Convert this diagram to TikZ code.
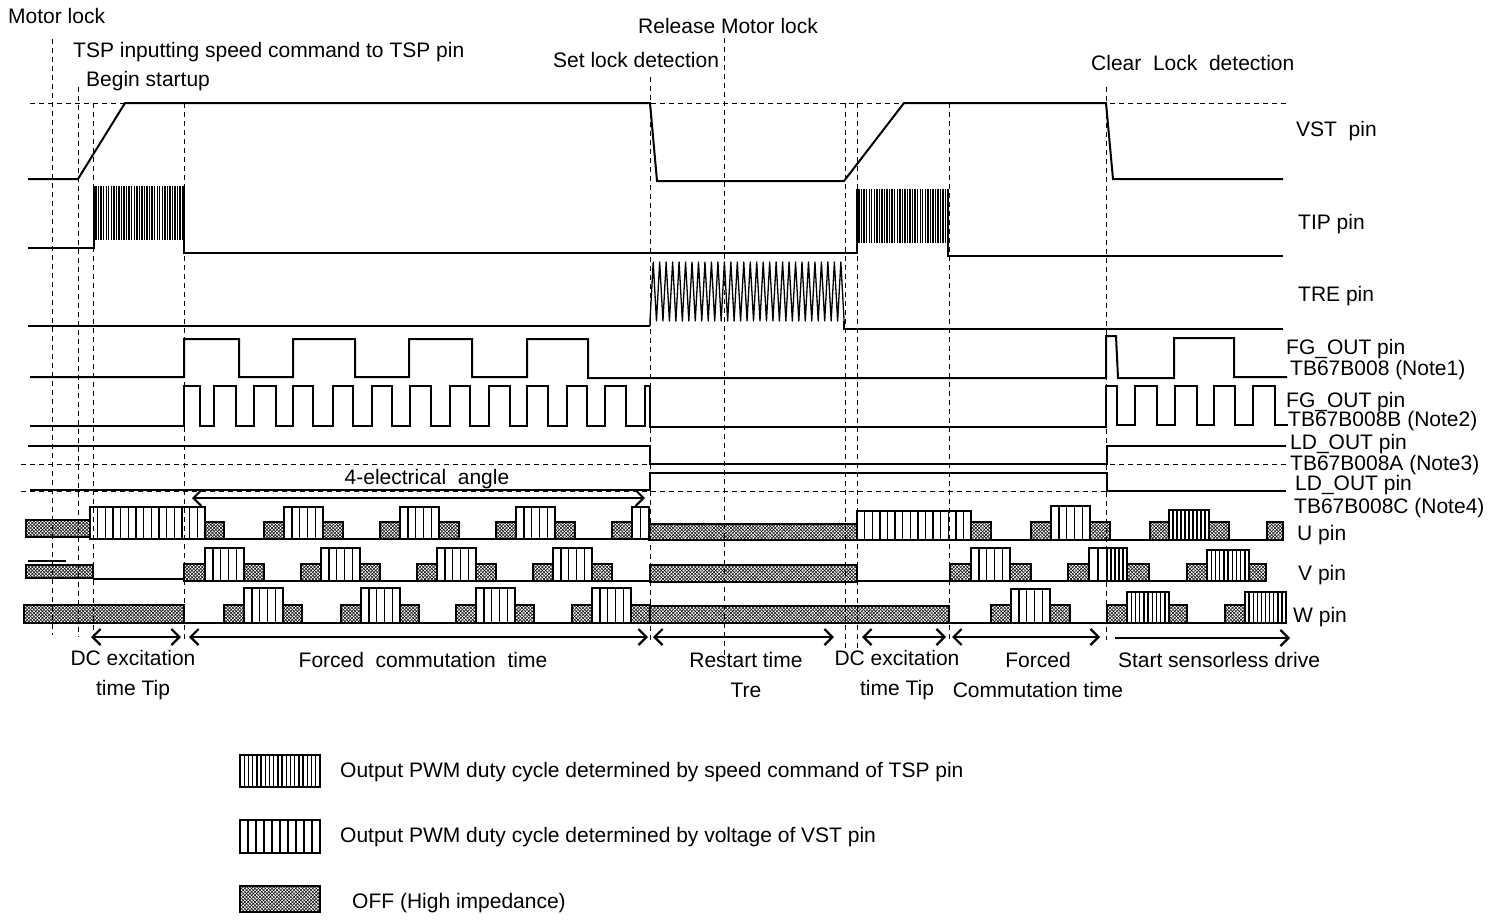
\documentclass[tikz,border=0pt]{standalone}
\usepackage{fontspec}
\setmainfont{Liberation Sans}
\usetikzlibrary{arrows.meta,patterns}
\pgfdeclarepatternformonly{offhatch}{\pgfqpoint{-0.5pt}{-0.5pt}}{\pgfqpoint{3.9pt}{3.9pt}}{\pgfqpoint{3.4pt}{3.4pt}}{%
 \pgfsetlinewidth{0.5pt}%
 \pgfpathmoveto{\pgfqpoint{0pt}{0pt}}\pgfpathlineto{\pgfqpoint{3.4pt}{3.4pt}}%
 \pgfpathmoveto{\pgfqpoint{0pt}{3.4pt}}\pgfpathlineto{\pgfqpoint{3.4pt}{0pt}}%
 \pgfusepath{stroke}}
\tikzset{
 sig/.style={line width=2pt, line join=miter},
 burst/.style={line width=1.4pt},
 treburst/.style={line width=1.3pt, line join=round},
 guide/.style={dash pattern=on 5pt off 4pt, line width=1pt},
 blk/.style={line width=1.8pt},
 stripe/.style={line width=1.4pt},
 base/.style={line width=1.4pt},
 lbl/.style={inner sep=0pt, anchor=west},
 clbl/.style={inner sep=0pt, align=center, font=\fontsize{21}{30}\selectfont},
 spanarrow/.style={line width=2.2pt, {Straight Barb[length=8pt,width=16pt]}-{Straight Barb[length=8pt,width=16pt]}},
 onearrow/.style={line width=2.2pt, -{Straight Barb[length=8pt,width=16pt]}},
}
\newcommand\hblk[4]{\draw[blk,pattern=offhatch] (#1,#3) rectangle (#2,#4);}
\newcommand\pwmblk[5]{%
 \pgfmathsetmacro\pwmleft{#1}%
 \pgfmathsetmacro\pwmright{#2}%
 \pgfmathtruncatemacro\pwmcount{max(1,round((\pwmright-\pwmleft)/#5)-1)}%
 \pgfmathsetmacro\pwmstep{(\pwmright-\pwmleft)/(\pwmcount+1)}%
 \foreach \k in {1,...,\pwmcount}{\draw[stripe] ({\pwmleft+\k*\pwmstep},#3) -- ({\pwmleft+\k*\pwmstep},#4);}%
 \draw[blk] (\pwmleft,#3) rectangle (\pwmright,#4);}
\newcommand\pwmS[4]{\pwmblk{#1}{#2}{#3}{#4}{7.7}}
\newcommand\pwmD[4]{\pwmblk{#1}{#2}{#3}{#4}{4.2}}
\begin{document}
\begin{tikzpicture}[x=1pt,y=-1pt,font=\fontsize{21}{25}\selectfont]
\useasboundingbox (0,0) rectangle (1494,919);

% ---------- dashed guides ----------
\draw[guide] (52,39) -- (52,635);
\draw[guide] (78,87) -- (78,637);
\draw[guide] (93,103) -- (93,640);
\draw[guide] (184,103) -- (184,640);
\draw[guide] (650,77) -- (650,640);
\draw[guide] (724,38) -- (724,660);
\draw[guide] (845,103) -- (845,650);
\draw[guide] (857,103) -- (857,650);
\draw[guide] (949,103) -- (949,640);
\draw[guide] (1106,87) -- (1106,640);
\draw[guide] (30,103) -- (1286,103);
\draw[guide] (21,464) -- (1288,464);
\draw[guide] (21,491) -- (1288,491);

% ---------- top labels ----------
\node[lbl] (tmotor) at (8,16) {Motor lock};
\node[lbl] (ttsp) at (73,52) {TSP inputting speed command to TSP pin};
\node[lbl] (tbegin) at (86,81) {Begin startup};
\node[lbl] (trelease) at (638,26) {Release Motor lock};
\node[lbl] (tset) at (553,60) {Set lock detection};
\node[lbl] (tclear) at (1091,63) {Clear\ \ Lock\ \ detection};

% ---------- VST ----------
\draw[sig] (28,179) -- (78,179) -- (125,103) -- (650,103) -- (657,181) -- (844,181) -- (904,103) -- (1106,103) -- (1113,179) -- (1283,179);

% ---------- TIP ----------
\draw[sig] (28,248) -- (94,248) -- (94,186);
\foreach \i in {0,...,34}{\draw[burst] ({96+2.55*\i},186) -- ({96+2.55*\i},240);}
\draw[sig] (184,186) -- (184,253) -- (857,253) -- (857,189);
\foreach \i in {0,...,34}{\draw[burst] ({859+2.55*\i},189) -- ({859+2.55*\i},243);}
\draw[sig] (948,189) -- (948,256) -- (1283,256);

% ---------- TRE ----------
\draw[sig] (28,326) -- (650,326);
\draw[treburst] (650,326) -- (650,321) \foreach \i in {0,...,29}{ -- ({650+6.47*\i+3.2},262) -- ({650+6.47*(\i+1)},321) };
\draw[sig] (844,321) -- (844,329) -- (1283,329);

% ---------- FG_OUT Note1 ----------
\draw[sig] (30,377) -- (184,377) -- (184,339) -- (239,339) -- (239,377) -- (293,377) -- (293,339) -- (355,339) -- (355,377) -- (409,377) -- (409,339) -- (472,339) -- (472,377) -- (527,377) -- (527,339) -- (588,339) -- (588,378) -- (1106,378) -- (1106,336) -- (1116,336) -- (1118,378) -- (1174,378) -- (1174,338) -- (1234,338) -- (1234,377) -- (1287,377);

% ---------- FG_OUT Note2 ----------
\draw[sig] (30,426) -- (184,426)
 -- (184,386) -- (200,386) -- (200,426) -- (214,426)
 -- (214,386) -- (236,386) -- (236,426) -- (254,426)
 -- (254,386) -- (276,386) -- (276,426) -- (293,426)
 -- (293,386) -- (313,386) -- (313,426) -- (333,426)
 -- (333,386) -- (353,386) -- (353,426) -- (372,426)
 -- (372,386) -- (392,386) -- (392,426) -- (410,426)
 -- (410,386) -- (431,386) -- (431,426) -- (450,426)
 -- (450,386) -- (470,386) -- (470,426) -- (489,426)
 -- (489,386) -- (510,386) -- (510,426) -- (527,426)
 -- (527,386) -- (548,386) -- (548,426) -- (567,426)
 -- (567,386) -- (587,386) -- (587,426) -- (605,426)
 -- (605,386) -- (626,386) -- (626,426) -- (645,426)
 -- (645,386) -- (650,386) -- (650,427) -- (1106,427)
 -- (1106,386) -- (1117,386) -- (1117,425) -- (1135,425)
 -- (1135,386) -- (1157,386) -- (1157,425) -- (1175,425)
 -- (1175,386) -- (1197,386) -- (1197,425) -- (1214,425)
 -- (1214,386) -- (1235,386) -- (1235,425) -- (1253,425)
 -- (1253,386) -- (1275,386) -- (1275,425) -- (1288,425);

% ---------- LD_OUT ----------
\draw[sig] (28,446) -- (650,446) -- (650,464) -- (1107,464) -- (1107,446) -- (1286,446);
\draw[sig] (30,490) -- (650,490) -- (650,473) -- (1107,473) -- (1107,491) -- (1286,491);

% ---------- 4-electrical angle ----------
\coordinate (ea1) at (192,498);
\coordinate (ea2) at (645,498);
\draw[spanarrow,line width=2pt] (ea1) -- (ea2);
\node[inner sep=0pt] (tangle) at (427,479) {4-electrical\ \ angle};

% ---------- U pin ----------
\hblk{26}{90}{520}{537}
\pwmS{90}{205}{507}{539}
\hblk{205}{224}{522}{539}
\draw[base] (224,539) -- (264,539);
\foreach \g in {264,380,496}{
 \hblk{\g}{\g+20}{522}{539}
 \pwmS{\g+20}{\g+59}{507}{539}
 \hblk{\g+59}{\g+79}{522}{539}
}
\draw[base] (343,539) -- (380,539);
\draw[base] (459,539) -- (496,539);
\draw[base] (575,539) -- (612,539);
\hblk{612}{632}{522}{539}
\pwmS{632}{649}{507}{539}
\hblk{649}{857}{524}{540}
\pwmS{857}{971}{511}{540}
\hblk{971}{991}{522}{540}
\draw[base] (991,540) -- (1031,540);
\hblk{1031}{1051}{522}{540}
\pwmS{1051}{1090}{506}{540}
\hblk{1090}{1110}{522}{540}
\draw[base] (1110,540) -- (1150,540);
\hblk{1150}{1169}{522}{540}
\pwmD{1169}{1209}{510}{540}
\hblk{1209}{1229}{522}{540}
\draw[base] (1229,540) -- (1267,540);
\hblk{1267}{1283}{522}{540}

% ---------- V pin ----------
\hblk{26}{93}{565}{578}
\draw[base] (28,561) -- (66,561);
\draw[base] (93,579) -- (184,579);
\hblk{184}{205}{564}{581}
\pwmS{205}{244}{548}{581}
\hblk{244}{264}{564}{581}
\draw[base] (264,581) -- (301,581);
\foreach \g in {301,417,533}{
 \hblk{\g}{\g+20}{564}{581}
 \pwmS{\g+20}{\g+59}{548}{581}
 \hblk{\g+59}{\g+79}{564}{581}
}
\draw[base] (380,581) -- (417,581);
\draw[base] (496,581) -- (533,581);
\draw[base] (612,581) -- (650,581);
\hblk{650}{857}{565}{582}
\draw[base] (857,581) -- (950,581);
\hblk{950}{971}{564}{581}
\pwmS{971}{1010}{548}{581}
\hblk{1010}{1031}{564}{581}
\draw[base] (1031,581) -- (1068,581);
\hblk{1068}{1089}{564}{581}
\pwmS{1089}{1107}{548}{581}
\pwmD{1107}{1127}{548}{581}
\hblk{1127}{1149}{564}{581}
\draw[base] (1149,581) -- (1187,581);
\hblk{1187}{1207}{564}{581}
\pwmD{1207}{1249}{550}{581}
\hblk{1249}{1266}{564}{581}

% ---------- W pin ----------
\hblk{24}{184}{605}{623}
\draw[base] (184,623) -- (224,623);
\foreach \g in {224,341,456,572}{
 \hblk{\g}{\g+20}{605}{623}
 \pwmS{\g+20}{\g+59}{588}{623}
 \hblk{\g+59}{\g+78}{605}{623}
}
\draw[base] (302,623) -- (341,623);
\draw[base] (419,623) -- (456,623);
\draw[base] (534,623) -- (572,623);
\hblk{650}{949}{606}{623}
\draw[base] (949,623) -- (991,623);
\hblk{991}{1011}{605}{623}
\pwmS{1011}{1050}{589}{623}
\hblk{1050}{1070}{605}{623}
\draw[base] (1070,623) -- (1107,623);
\hblk{1107}{1127}{605}{623}
\pwmD{1127}{1169}{592}{623}
\hblk{1169}{1187}{605}{623}
\draw[base] (1187,623) -- (1225,623);
\hblk{1225}{1245}{605}{623}
\pwmD{1245}{1286}{592}{623}

% ---------- right labels ----------
\node[lbl] (lvst) at (1296,131) {VST\ \ pin};
\node[lbl] (ltip) at (1298,224) {TIP pin};
\node[lbl] (ltre) at (1298,296) {TRE pin};
\node[lbl] (lfg1a) at (1286,349) {FG\_OUT pin};
\node[lbl] (lfg1b) at (1290,370) {TB67B008 (Note1)};
\node[lbl] (lfg2a) at (1286,402) {FG\_OUT pin};
\node[lbl] (lfg2b) at (1288,421) {TB67B008B (Note2)};
\node[lbl] (lld3a) at (1290,444) {LD\_OUT pin};
\node[lbl] (lld3b) at (1290,465) {TB67B008A (Note3)};
\node[lbl] (lld4a) at (1295,485) {LD\_OUT pin};
\node[lbl] (lld4b) at (1294,508) {TB67B008C (Note4)};
\node[lbl] (lu) at (1297,535) {U pin};
\node[lbl] (lv) at (1298,575) {V pin};
\node[lbl] (lw) at (1293,617) {W pin};

% ---------- bottom arrows ----------
\coordinate (a1l) at (91,637);   \coordinate (a1r) at (181,637);
\coordinate (a2l) at (189,637);  \coordinate (a2r) at (648,637);
\coordinate (a3l) at (653,637);  \coordinate (a3r) at (834,637);
\coordinate (a4l) at (862,637);  \coordinate (a4r) at (946,637);
\coordinate (a5l) at (952,637);  \coordinate (a5r) at (1100,637);
\coordinate (a6l) at (1115,638); \coordinate (a6r) at (1290,638);
\draw[spanarrow] (a1l) -- (a1r);
\draw[spanarrow] (a2l) -- (a2r);
\draw[spanarrow] (a3l) -- (a3r);
\draw[spanarrow] (a4l) -- (a4r);
\draw[spanarrow] (a5l) -- (a5r);
\draw[onearrow] (a6l) -- (a6r);

% ---------- bottom labels ----------
\node[clbl] (bdc1) at (133,675) {DC excitation\\time Tip};
\node[inner sep=0pt] (bfc) at (423,660) {Forced\ \ commutation\ \ time};
\node[clbl] (brs) at (746,675) {Restart time\\Tre};
\node[clbl] (bdc2) at (897,675) {DC excitation\\time Tip};
\node[clbl] (bfc2) at (1038,675) {Forced\\Commutation time};
\node[inner sep=0pt] (bss) at (1219,660) {Start sensorless drive};

% ---------- legend ----------
\pwmD{240}{320}{755}{787}
\pwmS{240}{320}{820}{853}
\hblk{240}{320}{886}{912}
\node[lbl] (leg1) at (340,772) {Output PWM duty cycle determined by speed command of TSP pin};
\node[lbl] (leg2) at (340,837) {Output PWM duty cycle determined by voltage of VST pin};
\node[lbl] (leg3) at (352,903) {OFF (High impedance)};
\end{tikzpicture}
\end{document}
